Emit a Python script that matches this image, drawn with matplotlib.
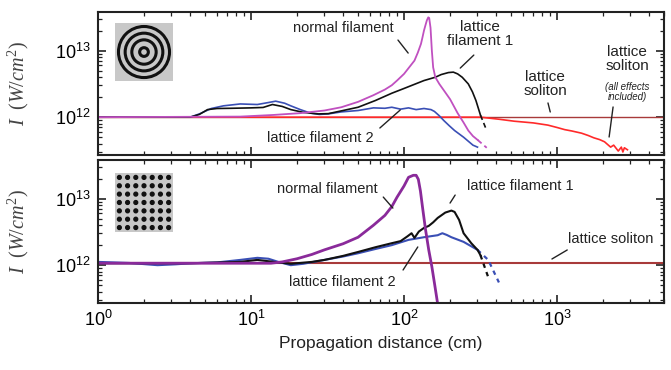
import math
import matplotlib
matplotlib.use("Agg")
import matplotlib.pyplot as plt
import matplotlib.ticker as ticker
from matplotlib.patches import Circle

plt.rcParams['font.family'] = ['Liberation Sans', 'DejaVu Sans']
plt.rcParams['mathtext.fontset'] = 'custom'
plt.rcParams['mathtext.rm'] = 'Liberation Serif'
plt.rcParams['mathtext.it'] = 'Liberation Serif:italic'

SCALE = 1e12  # intensities below are in units of 1e12 W/cm^2

# ---- top panel (ring lattice) ----
top_black_x = [1, 4.0, 4.6, 5.2, 6.0, 7.4, 10, 12.0, 13.8, 16, 18.2, 22, 27.5, 32, 40, 50.1, 65, 83.2, 100,
               135, 160, 175, 195, 210, 224, 240, 263, 280, 295, 316]
top_black_y = [1.0, 1.0, 1.1, 1.3, 1.35, 1.36, 1.38, 1.40, 1.55, 1.45, 1.30, 1.18, 1.12, 1.13, 1.26, 1.41, 1.78,
               2.29, 2.7, 3.55, 3.98, 4.37, 4.68, 4.75, 4.47, 3.98, 3.16, 2.4, 1.78, 1.07]
top_black_dash_x = [316, 347]
top_black_dash_y = [1.07, 0.63]

top_blue_x = [1, 4.0, 4.6, 5.5, 6.6, 8.5, 11.0, 13.0, 14.5, 16.6, 18.2, 21, 24.5, 28, 32, 38.9, 50.1, 63.1, 75,
              83.2, 95, 107, 120, 135, 150, 158, 170, 182, 198, 214, 245, 282, 302]
top_blue_y = [1.0, 1.0, 1.12, 1.35, 1.48, 1.58, 1.55, 1.66, 1.74, 1.62, 1.48, 1.30, 1.15, 1.10, 1.12, 1.20, 1.26,
              1.38, 1.36, 1.41, 1.32, 1.38, 1.30, 1.35, 1.30, 1.22, 1.05, 0.89, 0.74, 0.63, 0.50, 0.38, 0.355]

top_mag_x = [1, 8.5, 14, 21, 30.2, 38.9, 50.1, 63.1, 75, 83.2, 90, 100, 108, 117, 123, 129, 132, 135, 138, 141,
             144, 146, 149, 152, 155, 160, 170, 185, 200, 224, 245, 263, 282, 302]
top_mag_y = [1.0, 1.02, 1.08, 1.15, 1.26, 1.41, 1.70, 2.14, 2.6, 3.02, 3.55, 4.47, 5.6, 7.08, 9.3, 12.6, 15.8,
             20.0, 24.0, 28.5, 31.6, 31.0, 22.0, 10.0, 5.6, 4.0, 3.16, 2.4, 1.86, 1.15, 0.83, 0.63, 0.52, 0.457]
top_mag_dash_x = [302, 347]
top_mag_dash_y = [0.457, 0.347]

top_sol_x = [1, 5000]
top_sol_y = [1.0, 1.0]

top_red_x = [1, 316, 420, 525, 700, 871, 1000, 1122, 1250, 1445, 1600, 1738, 1900, 2042, 2239, 2344, 2512,
             2630, 2692, 2754, 2884]
top_red_y = [1.0, 1.0, 0.93, 0.87, 0.82, 0.76, 0.70, 0.65, 0.62, 0.575, 0.53, 0.49, 0.46, 0.427, 0.355, 0.38,
             0.31, 0.355, 0.30, 0.347, 0.324]

# ---- bottom panel (square lattice) ----
bot_sol_x = [1, 5000]
bot_sol_y = [1.07, 1.07]

bot_blue_x = [1, 1.6, 2.45, 3.2, 4.1, 6, 8.5, 11.0, 13, 15.1, 18.2, 22, 30.2, 40, 50.1, 65, 83.2, 107, 135, 166,
              178, 190, 204, 245, 302]
bot_blue_y = [1.12, 1.08, 1.0, 1.03, 1.07, 1.1, 1.20, 1.29, 1.25, 1.12, 1.0, 1.05, 1.20, 1.35, 1.51, 1.75, 2.0,
              2.40, 2.63, 2.82, 3.02, 2.85, 2.63, 2.24, 1.70]
bot_blue_dash_x = [302, 355, 417]
bot_blue_dash_y = [1.70, 1.20, 0.55]

bot_black_x = [1, 4.1, 8.5, 11.0, 15.1, 18.2, 25, 30.2, 40, 50.1, 65, 83.2, 95, 105, 112, 117, 125, 135, 145,
               155, 166, 186, 204, 214, 229, 245, 275, 302, 316]
bot_black_y = [1.07, 1.07, 1.12, 1.20, 1.10, 1.05, 1.12, 1.20, 1.38, 1.58, 1.86, 2.14, 2.3, 2.7, 3.02, 2.57,
               3.2, 3.63, 3.89, 4.4, 5.13, 6.17, 6.61, 6.31, 4.79, 3.02, 2.14, 1.70, 1.41]
bot_black_dash_x = [316, 355]
bot_black_dash_y = [1.41, 0.66]

bot_mag_x = [1, 13.5, 16, 20, 25, 30.2, 40, 50.1, 63.1, 75, 83.2, 90, 100, 107, 115, 120, 124, 128, 132, 138,
             145, 152, 158, 166]
bot_mag_y = [1.07, 1.07, 1.12, 1.25, 1.45, 1.70, 2.1, 2.63, 3.98, 5.6, 7.59, 10.5, 15.5, 20.9, 22.4, 22.4, 19.5,
             13.0, 7.5, 3.5, 1.70, 0.95, 0.54, 0.26]

x_ticks = [1, 10, 100, 1000]

BLACK = '#111111'
BLUE = '#3a4fb5'
MAG_TOP = '#c050c0'
MAG_BOT = '#8a2a9a'
RED = '#ff2a2a'
DARKRED = '#a83a3a'


def sc(v):
    return [a * SCALE for a in v]


fig = plt.figure(figsize=(6.71, 3.70), dpi=100)
ax1 = fig.add_axes([0.146, 0.581, 0.8436, 0.3865])
ax2 = fig.add_axes([0.146, 0.181, 0.8436, 0.3865])

# top panel curves
ax1.plot(top_sol_x, sc(top_sol_y), color=DARKRED, lw=1.0)
ax1.plot(top_red_x, sc(top_red_y), color=RED, lw=1.2)
ax1.plot(top_blue_x, sc(top_blue_y), color=BLUE, lw=1.2)
ax1.plot(top_black_x, sc(top_black_y), color=BLACK, lw=1.2)
ax1.plot(top_black_dash_x, sc(top_black_dash_y), color=BLACK, lw=1.2, ls=(0, (3, 2)))
ax1.plot(top_mag_x, sc(top_mag_y), color=MAG_TOP, lw=1.3)
ax1.plot(top_mag_dash_x, sc(top_mag_dash_y), color=MAG_TOP, lw=1.3, ls=(0, (3, 2)))

# bottom panel curves
ax2.plot(bot_sol_x, sc(bot_sol_y), color=DARKRED, lw=1.5)
ax2.plot(bot_blue_x, sc(bot_blue_y), color=BLUE, lw=1.5)
ax2.plot(bot_blue_dash_x, sc(bot_blue_dash_y), color=BLUE, lw=1.6, ls=(0, (2, 2)))
ax2.plot(bot_black_x, sc(bot_black_y), color=BLACK, lw=1.5)
ax2.plot(bot_black_dash_x, sc(bot_black_dash_y), color=BLACK, lw=1.6, ls=(0, (2, 2)))
ax2.plot(bot_mag_x, sc(bot_mag_y), color=MAG_BOT, lw=2.0)

fmt = ticker.FuncFormatter(lambda v, p: r'$\mathregular{10^{%d}}$' % round(math.log10(v)))
for ax in (ax1, ax2):
    ax.set_xscale('log')
    ax.set_yscale('log')
    ax.set_xlim(1, 5000)
    ax.set_ylim(2.7e11, 3.8e13)
    ax.set_xticks(x_ticks)
    ax.xaxis.set_major_formatter(fmt)
    ax.yaxis.set_major_formatter(fmt)
    ax.yaxis.set_minor_formatter(ticker.NullFormatter())
    ax.xaxis.set_minor_formatter(ticker.NullFormatter())
    ax.tick_params(which='both', direction='in', top=True, right=True, color='#222222')
    ax.tick_params(which='major', length=6, width=1.2, labelsize=13, pad=5)
    ax.tick_params(which='minor', length=3, width=0.9)
    for s in ax.spines.values():
        s.set_linewidth(1.5)
        s.set_color('#222222')
    ax.set_ylabel(r'$I\ \ (W/cm^2)$', fontsize=14.5, color='#444444')
    ax.yaxis.set_label_coords(-0.118, 0.5)

ax1.tick_params(labelbottom=False)
ax2.set_xlabel('Propagation distance (cm)', fontsize=12.5, color='#222222', labelpad=4)

TXT = dict(ha='center', va='center', fontsize=10.5, color='#222222', linespacing=1.05)
LEAD = dict(arrowstyle='-', color='#222222', lw=1.0, shrinkA=0, shrinkB=0)


def label(ax, text, tx, ty, lx0=None, ly0=None, lx1=None, ly1=None, **kw):
    opts = dict(TXT)
    opts.update(kw)
    ax.text(tx, ty, text, transform=ax.transAxes, **opts)
    if lx0 is not None:
        ax.annotate('', xy=(lx1, ly1), xytext=(lx0, ly0), xycoords='axes fraction',
                    textcoords='axes fraction', arrowprops=LEAD)


# top annotations
label(ax1, 'normal filament', 0.433, 0.888, 0.530, 0.804, 0.548, 0.713)
label(ax1, 'lattice\nfilament 1', 0.675, 0.846, 0.664, 0.699, 0.640, 0.608, fontsize=11)
label(ax1, 'lattice\nsoliton', 0.790, 0.497, 0.795, 0.364, 0.799, 0.301, fontsize=11)
label(ax1, 'lattice\nsoliton', 0.935, 0.671, fontsize=11)
label(ax1, '(all effects\nincluded)', 0.935, 0.441, 0.910, 0.336, 0.903, 0.126, fontsize=7, style='italic')
label(ax1, 'lattice filament 2', 0.392, 0.119, 0.498, 0.189, 0.534, 0.315)

# bottom annotations
label(ax2, 'normal filament', 0.406, 0.797, 0.504, 0.741, 0.521, 0.664)
label(ax2, 'lattice filament 1', 0.746, 0.818, 0.631, 0.755, 0.622, 0.699)
label(ax2, 'lattice soliton', 0.906, 0.448, 0.829, 0.371, 0.802, 0.308)
label(ax2, 'lattice filament 2', 0.431, 0.147, 0.539, 0.231, 0.565, 0.392)

# pictograms of the lattices
ins1 = fig.add_axes([0.1714, 0.781, 0.0864, 0.1568])
ins2 = fig.add_axes([0.1714, 0.373, 0.0864, 0.1595])
for ins in (ins1, ins2):
    ins.set_xlim(-1, 1)
    ins.set_ylim(-1, 1)
    ins.set_facecolor('#c8c8c8')
    ins.set_xticks([])
    ins.set_yticks([])
    for s in ins.spines.values():
        s.set_visible(False)

for r in [0.88, 0.65, 0.42, 0.15]:
    ins1.add_patch(Circle((0, 0), r, fill=False, ec='#111111', lw=2.2))

n = 7
for i in range(n):
    for j in range(n):
        px = -0.85 + 1.7 * i / (n - 1)
        py = -0.85 + 1.7 * j / (n - 1)
        ins2.add_patch(Circle((px, py), 0.065, color='#111111'))

fig.savefig('out.png', dpi=100)
